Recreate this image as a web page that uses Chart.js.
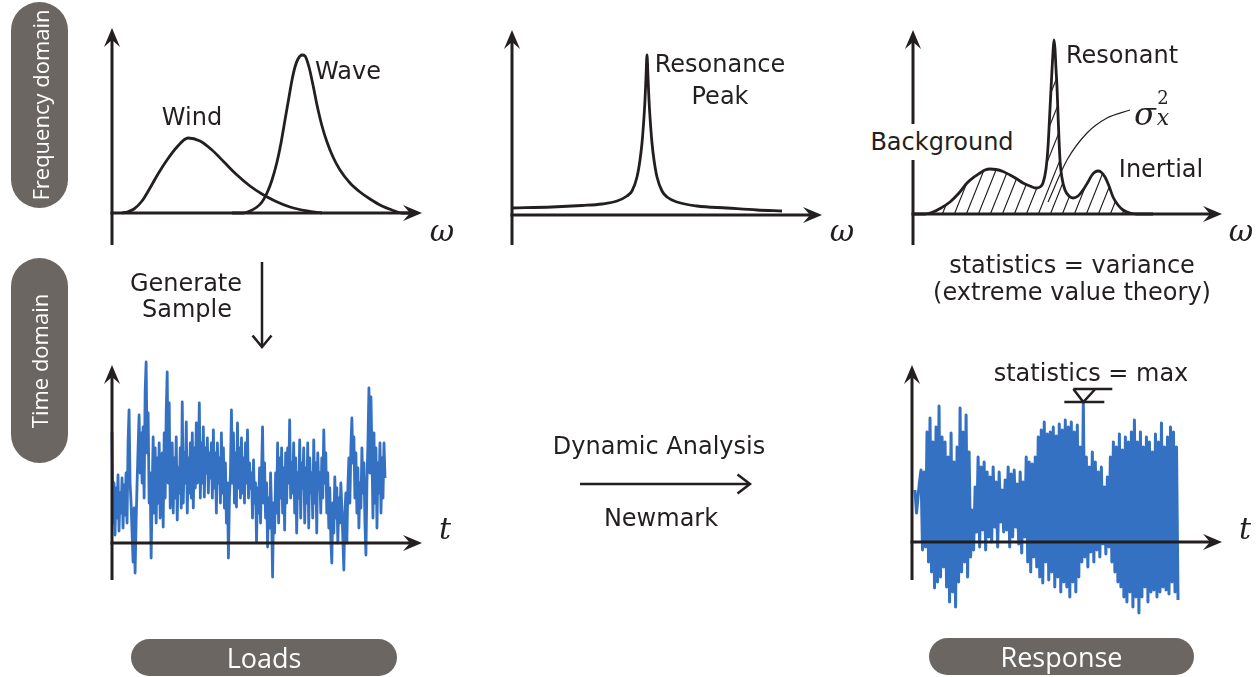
<!DOCTYPE html>
<html><head><meta charset="utf-8">
<script src="https://cdn.jsdelivr.net/npm/chart.js@4.4.1/dist/chart.umd.min.js"></script>
<style>
html,body{margin:0;padding:0;background:#fff;}
body{width:1256px;height:677px;position:relative;overflow:hidden;font-family:"DejaVu Sans",sans-serif;color:#231f20;}
canvas{position:absolute;}
.t{position:absolute;transform:translate(-50%,-50%);white-space:nowrap;font-size:24px;line-height:1;}
.m{position:absolute;transform:translate(-50%,-50%);white-space:nowrap;font-family:"DejaVu Serif",serif;font-style:italic;line-height:1;}
.pill{position:absolute;background:#6b6661;color:#fff;font-family:"Open Sans",sans-serif;display:flex;align-items:center;justify-content:center;line-height:1;white-space:nowrap;}
.rot{transform:rotate(-90deg);font-size:22px;}
svg{position:absolute;left:0;top:0;}
</style></head><body>
<canvas id="p1"></canvas><canvas id="p2"></canvas><canvas id="p3"></canvas><canvas id="p4"></canvas><canvas id="p5"></canvas>
<svg width="1256" height="677">
  <g stroke="#231f20" stroke-width="2.5" fill="none">
    <line x1="262" y1="262" x2="262" y2="346"/>
    <polyline points="252.5,335.5 262,347 271.5,335.5"/>
    <line x1="580" y1="484" x2="749" y2="484"/>
    <polyline points="737.5,474.5 750,484 737.5,493.5"/>
  </g>
</svg>
<div class="pill" style="left:11px;top:2px;width:57px;height:206px;border-radius:28.5px"><span class="rot">Frequency domain</span></div>
<div class="pill" style="left:11px;top:258px;width:57px;height:205px;border-radius:28.5px"><span class="rot">Time domain</span></div>
<div class="pill" style="left:131px;top:639px;width:266px;height:37px;border-radius:18.5px;font-size:27px">Loads</div>
<div class="pill" style="left:929px;top:638px;width:265px;height:37px;border-radius:18.5px;font-size:27px">Response</div>

<div class="t" style="left:192px;top:117px">Wind</div>
<div class="t" style="left:348px;top:71px">Wave</div>
<div class="t" style="left:720px;top:64px">Resonance</div>
<div class="t" style="left:720px;top:96px">Peak</div>
<div class="t" style="left:1122px;top:55px">Resonant</div>
<div class="t" style="left:942px;top:142px;background:#fff;padding:6px 2px">Background</div>
<div class="t" style="left:1161px;top:169px">Inertial</div>
<div class="t" style="left:1072px;top:265px">statistics = variance</div>
<div class="t" style="left:1072px;top:292px">(extreme value theory)</div>
<div class="t" style="left:186px;top:283px">Generate</div>
<div class="t" style="left:187px;top:309px">Sample</div>
<div class="t" style="left:659px;top:446px">Dynamic Analysis</div>
<div class="t" style="left:661px;top:518px">Newmark</div>
<div class="t" style="left:1091px;top:373px">statistics = max</div>

<div class="m" style="left:442px;top:231px;font-size:30px">ω</div>
<div class="m" style="left:842px;top:231px;font-size:30px">ω</div>
<div class="m" style="left:1241px;top:231px;font-size:30px">ω</div>
<div class="m" style="left:445px;top:529px;font-size:30px">t</div>
<div class="m" style="left:1245px;top:529px;font-size:30px">t</div>
<div class="m" style="left:1145px;top:114px;font-size:32px">σ</div>
<div class="m" style="left:1163px;top:98px;font-size:18px;font-style:normal">2</div>
<div class="m" style="left:1163px;top:118px;font-size:22px">x</div>

<script>
// ---------- data (heights measured above each panel's horizontal axis) ----------
const windX = [10, 15, 22, 30, 38, 46, 55, 65, 76, 88, 100, 112, 125, 138, 150, 163, 178, 195, 210];
const windY = [0, 1, 4, 12, 25, 39, 53, 66, 75, 72, 63, 51, 38, 27, 19, 12, 6, 2, 0];
const waveX = [120, 131, 138, 145, 150, 155, 160, 165, 169, 173, 177, 180, 183, 186, 190, 193, 197, 201, 205, 210, 215, 221, 228, 238, 248, 258, 270, 280, 290, 300];
const waveY = [0, 0, 2, 6, 11, 20, 33, 51, 70, 93, 116, 133, 146, 154, 158, 157, 146, 128, 108, 87, 71, 56, 43, 30, 21, 14, 7, 3, 0, 0];
const resX = [0, 40, 70, 90, 105, 115, 120, 125, 128, 130, 132, 133, 134, 135, 136, 137, 138, 140, 142, 145, 150, 155, 165, 185, 215, 245, 270];
const resY = [7, 8, 9.5, 11, 14, 19, 24, 38, 55, 72, 98, 115, 138, 160, 138, 115, 98, 72, 55, 38, 24, 18, 13, 9, 7, 5, 4];
const specX = [0, 12, 20, 28, 37, 46, 54, 61, 67, 72, 77, 83, 90, 97, 104, 110, 117, 123, 127, 130, 133, 135, 137, 139, 140, 141, 142, 143, 144, 145, 147, 149, 152, 156, 160, 165, 170, 175, 179, 182, 185, 188, 192, 196, 200, 205, 210, 217, 224, 240];
const specY = [0, 0, 2, 6, 12, 21, 31, 37, 41, 44, 45, 44.5, 42.5, 39, 35, 31, 28, 26, 27, 31, 45, 67, 105, 144, 162, 174, 165, 145, 127, 100, 54, 36, 24, 18, 16, 18, 24, 32, 39, 42, 43, 42, 37, 28, 17, 9, 4, 1, 0, 0];
const sigmaLeaderX = [135, 154, 174, 194, 217];
const sigmaLeaderY = [12, 54, 81, 96, 104];
const loads = [
  111, 20, 60, 8, 55, 25, 68, 12, 50, 30,
  65, 15, 58, 28, 70, 20, 100, 133, 60, 40,
  10, -19, 35, -30, 20, 60, 95, 128, 70, 110,
  60, 116, 45, 150, 181, 90, 130, 40, 70, -15,
  50, 106, 30, 95, 20, 85, 40, 100, 25, 70,
  90, 16, 110, 45, 130, 171, 60, 140, 35, 80,
  100, 30, 85, 45, 106, 23, 75, 50, 95, 35,
  141, 40, 90, 60, 121, 30, 85, 50, 100, 45,
  110, 35, 95, 55, 120, 60, 80, 140, 45, 100,
  60, 116, 46, 95, 70, 105, 50, 90, 65, 100,
  45, 113, 55, 90, 30, 100, 60, 85, 40, 110,
  50, 95, 35, 80, 20, 60, -15, 45, 70, 133,
  60, 110, 40, 90, 36, 120, 55, 95, 45, 105,
  50, 85, 40, 100, 60, 113, 45, 80, 55, 70,
  25, 83, 40, 60, 1, 55, 30, 75, 20, 70,
  116, 40, 80, 25, 60, -4, 45, 15, 70, 30,
  -34, 40, 10, 70, 30, 100, 20, 85, 45, 95,
  30, 75, 13, 90, 40, 95, 60, 123, 45, 80,
  50, 100, 30, 85, 10, 70, 45, 103, 25, 80,
  55, 95, 20, 75, 40, 100, 15, 85, 50, 70,
  25, 103, 40, 80, 10, 90, 55, 70, 30, 85,
  45, 113, 60, 90, 30, 70, 15, 55, 5, -20,
  40, 10, 66, 25, 55, 0, 45, 20, 60, 35,
  5, -27, 30, 50, 0, 55, 85, 40, 95, 125,
  80, 106, 45, 90, 30, 75, 15, 60, 35, 95,
  50, 80, 20, -12, 60, 100, 155, 70, 146, 90,
  25, 110, 40, 95, 15, 80, 50, 100, 30, 85,
  45, 100, 65
];
const response = [
  52, 29, 45, 60, 72, -8, 70, -5, 110, -20,
  124, -30, 100, -46, 115, -40, 136, -35, 105, -25,
  100, -45, 85, -60, 109, -50, 80, -65, 95, -40,
  134, -30, 110, -20, 127, -35, 90, -15, 32, -8,
  55, 10, 85, -5, 75, 12, 80, -8, 70, 5,
  65, 0, 75, 15, 60, -5, 70, 20, 52, 10,
  62, 12, 75, -5, 68, 5, 72, 15, 58, -2,
  70, -11, 60, 5, 85, -20, 80, -30, 78, -15,
  85, -25, 105, -35, 112, -41, 120, -20, 108, -38,
  110, -30, 115, -45, 106, -35, 118, -50, 112, -40,
  122, -45, 115, -55, 120, -40, 110, -50, 117, -35,
  95, -20, 140, -15, 85, -25, 75, -10, 90, -20,
  80, -8, 70, -15, 75, -2, 55, -12, 65, -5,
  85, -20, 100, -30, 95, -40, 108, -45, 92, -55,
  105, -60, 100, -50, 110, -65, 122, -55, 100, -71,
  110, -55, 95, -45, 105, -60, 100, -50, 90, -48,
  108, -55, 100, -50, 119, -45, 95, -48, 105, -52,
  115, -40, 110, -50, 95, -58
];

// ---------- drawing ----------
const INK = '#231f20';
const BLUE = '#3571c3';
const pts = (xs, ys) => xs.map((x, i) => ({x, y: ys[i]}));
const idx = (ys) => ys.map((y, i) => ({x: i, y}));

function arrowHead(ctx, tx, ty, dx, dy) {
  const L = 19, W = 8, N = 12, px = -dy, py = dx;
  ctx.beginPath();
  ctx.moveTo(tx, ty);
  ctx.lineTo(tx - dx * L + px * W, ty - dy * L + py * W);
  ctx.lineTo(tx - dx * N, ty - dy * N);
  ctx.lineTo(tx - dx * L - px * W, ty - dy * L - py * W);
  ctx.closePath();
  ctx.fill();
}
const axesPlugin = {
  id: 'axes',
  afterDatasetsDraw(chart, args, o) {
    const {ctx, scales: {x, y}} = chart;
    const ox = x.getPixelForValue(o.x0), oy = y.getPixelForValue(0);
    ctx.save();
    ctx.strokeStyle = INK; ctx.fillStyle = INK; ctx.lineWidth = 3;
    ctx.beginPath(); ctx.moveTo(ox, oy + o.below); ctx.lineTo(ox, oy - o.up + 12); ctx.stroke();
    arrowHead(ctx, ox, oy - o.up, 0, -1);
    ctx.beginPath(); ctx.moveTo(ox - 1.5, oy); ctx.lineTo(ox + o.right - 12, oy); ctx.stroke();
    arrowHead(ctx, ox + o.right, oy, 1, 0);
    if (o.maxMark) {
      const ds = chart.getDatasetMeta(0).data;
      const vals = chart.data.datasets[0].data.map(d => d.y);
      const k = vals.indexOf(Math.max(...vals));
      const mx = ds[k].x, my = ds[k].y;
      ctx.lineWidth = 2.5;
      ctx.beginPath();
      ctx.moveTo(mx - 19, my); ctx.lineTo(mx + 21, my);
      ctx.moveTo(mx - 10, my - 13); ctx.lineTo(mx + 29, my - 13);
      ctx.moveTo(mx - 10, my - 13); ctx.lineTo(mx, my); ctx.lineTo(mx + 12, my - 13);
      ctx.stroke();
    }
    ctx.restore();
  }
};

function panel(id, box, xr, yr, datasets, ax) {
  const cv = document.getElementById(id);
  cv.width = box.w; cv.height = box.h;
  cv.style.left = box.l + 'px'; cv.style.top = box.t + 'px';
  cv.style.width = box.w + 'px'; cv.style.height = box.h + 'px';
  return new Chart(cv, {
    type: 'line',
    data: {datasets},
    options: {
      responsive: false, animation: false, events: [], devicePixelRatio: 1,
      layout: {padding: 0},
      plugins: {legend: {display: false}, tooltip: {enabled: false}, title: {display: false}, axes: ax},
      scales: {
        x: {type: 'linear', display: false, min: xr[0], max: xr[1]},
        y: {type: 'linear', display: false, min: yr[0], max: yr[1]}
      }
    },
    plugins: [axesPlugin]
  });
}
const curve = (data, extra) => Object.assign({data, borderColor: INK, borderWidth: 2.8, pointRadius: 0,
  fill: false, cubicInterpolationMode: 'monotone', borderJoinStyle: 'round'}, extra || {});

// hatch pattern
function hatch(ctx) {
  const c = document.createElement('canvas'); c.width = 12; c.height = 30;
  const g = c.getContext('2d');
  g.strokeStyle = INK; g.lineWidth = 1.2;
  g.beginPath();
  for (const off of [-12, 0, 12]) { g.moveTo(off, 30); g.lineTo(off + 12, 0); }
  g.stroke();
  return ctx.createPattern(c, 'repeat');
}

panel('p1', {l: 100, t: 20, w: 340, h: 235}, [-12, 328], [-42, 193],
  [curve(pts(windX, windY)), curve(pts(waveX, waveY))],
  {x0: 0, below: 32, up: 185, right: 310});

panel('p2', {l: 500, t: 20, w: 340, h: 235}, [-12, 328], [-40, 195],
  [curve(pts(resX, resY))],
  {x0: 0, below: 30, up: 185, right: 310});

const pat = hatch(document.getElementById('p3').getContext('2d'));
panel('p3', {l: 900, t: 20, w: 340, h: 235}, [-13, 327], [-41, 194],
  [curve(pts(specX, specY), {fill: 'origin', backgroundColor: pat}),
   curve(pts(sigmaLeaderX, sigmaLeaderY), {borderWidth: 1.2})],
  {x0: 0, below: 31, up: 184, right: 309});

// time panels: samples spread evenly over the drawn span of each signal
const lp = 273 / (loads.length - 1);
panel('p4', {l: 100, t: 350, w: 340, h: 245}, [-12 / lp, 328 / lp], [-52, 193],
  [{data: idx(loads), borderColor: BLUE, borderWidth: 2.8, pointRadius: 0, tension: 0, borderJoinStyle: 'round', fill: false}],
  {x0: 0, below: 37, up: 178, right: 310});

const rp = 263 / (response.length - 1);
panel('p5', {l: 900, t: 350, w: 340, h: 280}, [-15 / rp, 325 / rp], [-88, 192],
  [{data: idx(response), borderColor: BLUE, borderWidth: 3, pointRadius: 0, tension: 0, borderJoinStyle: 'round', fill: false}],
  {x0: -3 / rp, below: 38, up: 177, right: 310, maxMark: true});
</script>
</body></html>
